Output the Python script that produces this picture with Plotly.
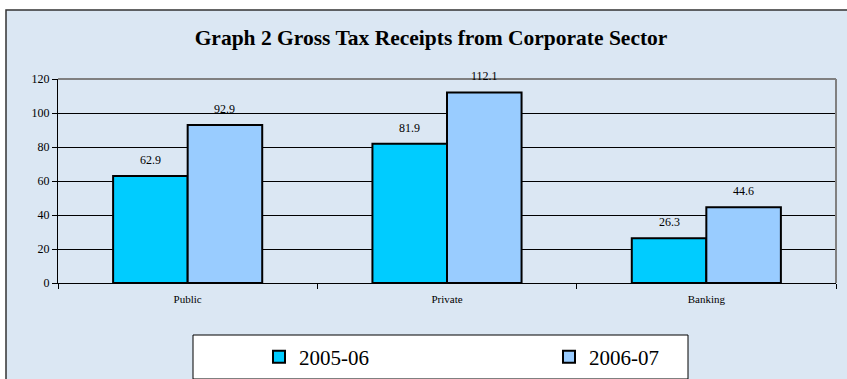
import plotly.graph_objects as go

categories = ["Public", "Private", "Banking"]
series_names = ["2005-06", "2006-07"]
values_2005 = [62.9, 81.9, 26.3]
values_2006 = [92.9, 112.1, 44.6]
colors = ["#00ccff", "#99ccff"]
y_ticks = [0, 20, 40, 60, 80, 100, 120]

FONT = "Liberation Serif, Times New Roman, serif"
BARGAP = 0.425

fig = go.Figure()
for name, vals, col in zip(series_names, [values_2005, values_2006], colors):
    fig.add_trace(go.Bar(
        x=categories, y=vals, name=name,
        marker=dict(color=col, line=dict(color="black", width=2)),
        cliponaxis=False,
    ))

# data labels placed above each bar (grouped offsets in category units)
bar_w = (1 - BARGAP) / 2
annotations = []
for s, vals in enumerate([values_2005, values_2006]):
    off = (s - 0.5) * bar_w
    for i, v in enumerate(vals):
        annotations.append(dict(
            x=i + off, y=v, xref="x", yref="y", text=f"{v:.1f}",
            showarrow=False, yanchor="middle", yshift=16,
            font=dict(family=FONT, size=12, color="black")))

W, H = 847, 379
L, R, T, B = 58, 11, 79, 96
pw, ph = W - L - R, H - T - B

def px_x(x):
    return (x - L) / pw

def px_y(y):
    return (H - B - y) / ph

shapes = [
    dict(type="rect", xref="paper", yref="paper", layer="below",
         x0=px_x(6), x1=px_x(852), y0=px_y(390), y1=px_y(10),
         fillcolor="#dbe7f3", line=dict(color="#333333", width=1.5)),
    dict(type="line", xref="paper", yref="paper", x0=0, x1=1, y0=1, y1=1,
         line=dict(color="#808080", width=2)),
    dict(type="line", xref="paper", yref="paper", x0=1, x1=1, y0=0, y1=1,
         line=dict(color="#808080", width=2)),
    dict(type="rect", xref="paper", yref="paper",
         x0=px_x(193), x1=px_x(688), y0=px_y(379), y1=px_y(335),
         fillcolor="white", line=dict(color="black", width=1)),
]

fig.update_layout(
    width=W, height=H,
    margin=dict(l=L, r=R, t=T, b=B, autoexpand=False),
    paper_bgcolor="white",
    plot_bgcolor="white",
    barmode="group",
    bargap=BARGAP,
    bargroupgap=0,
    title=dict(text="<b>Graph 2 Gross Tax Receipts from Corporate Sector</b>",
               x=431 / W, xanchor="center",
               y=1 - 37 / H, yanchor="middle", yref="container",
               font=dict(family=FONT, size=21.5, color="black")),
    font=dict(family=FONT, color="black"),
    xaxis=dict(showline=True, linecolor="black", linewidth=1,
               ticks="outside", tickson="boundaries", ticklen=5, tickcolor="black",
               ticklabelstandoff=6,
               tickfont=dict(family=FONT, size=11, color="black"),
               showgrid=False, range=[-0.5, 2.5]),
    yaxis=dict(range=[0, 120], tickvals=y_ticks, showline=True, linecolor="black",
               linewidth=1, ticks="outside", ticklen=5, tickcolor="black",
               tickfont=dict(family=FONT, size=12, color="black"),
               showgrid=True, gridcolor="black", gridwidth=1, zeroline=False),
    legend=dict(orientation="h", x=px_x(259), xanchor="left",
                y=px_y(357), yanchor="middle",
                bgcolor="rgba(0,0,0,0)", borderwidth=0,
                entrywidth=245, entrywidthmode="pixels",
                font=dict(family=FONT, size=21, color="black")),
    shapes=shapes,
    annotations=annotations,
)

fig.write_html("out.html")
